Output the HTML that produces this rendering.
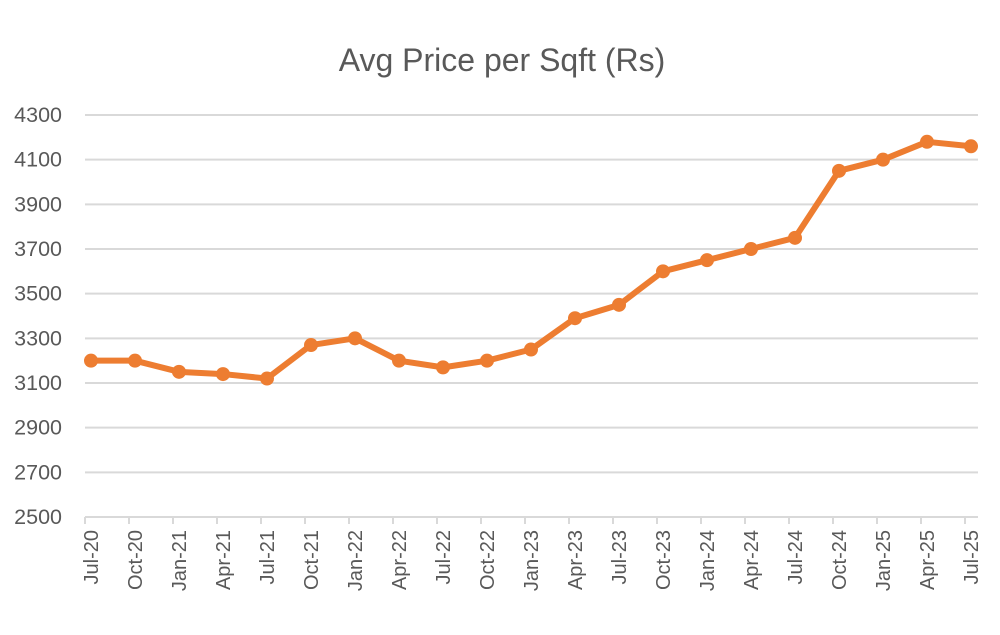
<!DOCTYPE html>
<html><head><meta charset="utf-8"><style>
body{margin:0;background:#fff;}
svg text{font-family:"Liberation Sans",sans-serif;}
</style></head><body>
<svg id="chart" width="1000" height="630" xmlns="http://www.w3.org/2000/svg">
<rect width="1000" height="630" fill="#fff"/>
<text x="502" y="71" text-anchor="middle" font-size="32" fill="#595959">Avg Price per Sqft (Rs)</text>
<g id="grid"></g><g id="xaxis"></g><g id="series"></g>
</svg>
<script>
const categories=["Jul-20","Oct-20","Jan-21","Apr-21","Jul-21","Oct-21","Jan-22","Apr-22","Jul-22","Oct-22","Jan-23","Apr-23","Jul-23","Oct-23","Jan-24","Apr-24","Jul-24","Oct-24","Jan-25","Apr-25","Jul-25"];
const prices=[3200,3200,3150,3140,3120,3270,3300,3200,3170,3200,3250,3390,3450,3600,3650,3700,3750,4050,4100,4180,4160];
const yTicks=[2500,2700,2900,3100,3300,3500,3700,3900,4100,4300];
const NS="http://www.w3.org/2000/svg";
const yMin=2500,yMax=4300,y0=517,y1=115;
function yScale(v){return y0-(v-yMin)/(yMax-yMin)*(y0-y1);}
function xScale(i){return 91+i*44;}
function mk(tag,attrs,parent){const e=document.createElementNS(NS,tag);for(const k in attrs)e.setAttribute(k,attrs[k]);parent.appendChild(e);return e;}
const grid=document.getElementById('grid'),xa=document.getElementById('xaxis'),ser=document.getElementById('series');
yTicks.forEach(t=>{
  const y=yScale(t);
  const l=mk('line',{x1:85,x2:978,y1:y,y2:y,stroke:'#d9d9d9','stroke-width':2},grid);
  
  
  const tx=mk('text',{x:62,y:y+7,'text-anchor':'end','font-size':21.5,fill:'#595959'},grid);
  tx.textContent=t;
  
  
});
categories.forEach((c,i)=>{
  const x=xScale(i)-6;
  const tk=mk('line',{x1:x,x2:x,y1:517,y2:524,stroke:'#d9d9d9','stroke-width':2},xa);
  
  
  const t=mk('text',{x:0,y:0,'text-anchor':'end','font-size':20,fill:'#595959',transform:`translate(${xScale(i)+7},530) rotate(-90)`},xa);
  t.textContent=c;
  
  
});
const pts=prices.map((v,i)=>xScale(i)+','+yScale(v)).join(' ');
const pl=mk('polyline',{points:pts,fill:'none',stroke:'#ED7D31','stroke-width':6,'stroke-linejoin':'round'},ser);


prices.forEach((v,i)=>{
  const c=mk('circle',{cx:xScale(i),cy:yScale(v),r:7,fill:'#ED7D31'},ser);
  
  
});
</script>
</body></html>
